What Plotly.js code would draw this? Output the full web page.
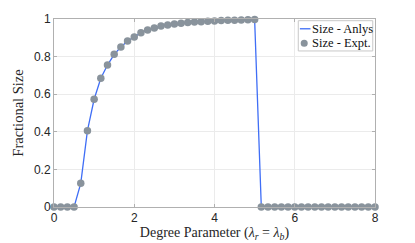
<!DOCTYPE html>
<html>
<head>
<meta charset="utf-8">
<script src="https://cdn.plot.ly/plotly-3.0.1.min.js"></script>
<style>html,body{margin:0;padding:0;background:#fff;}#chart{width:415px;height:243px;}</style>
</head>
<body>
<div id="chart"></div>
<script>
var degreeParam = [0, 0.1667, 0.3333, 0.5, 0.6667, 0.8333, 1, 1.1667, 1.3333, 1.5, 1.6667, 1.8333,
  2, 2.1667, 2.3333, 2.5, 2.6667, 2.8333, 3, 3.1667, 3.3333, 3.5, 3.6667, 3.8333,
  4, 4.1667, 4.3333, 4.5, 4.6667, 4.8333, 5, 5.1667, 5.3333, 5.5, 5.6667, 5.8333,
  6, 6.1667, 6.3333, 6.5, 6.6667, 6.8333, 7, 7.1667, 7.3333, 7.5, 7.6667, 7.8333, 8];
var sizeAnlys = [0, 0, 0, 0, 0.126, 0.406, 0.573, 0.685, 0.755, 0.812, 0.851, 0.883,
  0.904, 0.927, 0.941, 0.952, 0.963, 0.968, 0.973, 0.977, 0.981, 0.984, 0.986, 0.988,
  0.990, 0.992, 0.993, 0.994, 0.995, 0.996, 0.997, 0, 0, 0, 0, 0,
  0, 0, 0, 0, 0, 0, 0, 0, 0, 0, 0, 0, 0];
var sizeExpt = [0, 0, 0, 0, 0.126, 0.406, 0.573, 0.685, 0.755, 0.812, 0.851, 0.883,
  0.904, 0.927, 0.941, 0.952, 0.963, 0.968, 0.973, 0.977, 0.981, 0.984, 0.986, 0.988,
  0.990, 0.992, 0.993, 0.994, 0.995, 0.996, 0.997, 0, 0, 0, 0, 0,
  0, 0, 0, 0, 0, 0, 0, 0, 0, 0, 0, 0, 0];
var seriesNames = ['Size - Anlys', 'Size - Expt.'];
var xTicks = [0, 2, 4, 6, 8];
var yTicks = [0, 0.2, 0.4, 0.6, 0.8, 1];
var yTickText = ['0', '0.2', '0.4', '0.6', '0.8', '1'];

var serif = '"Liberation Serif", "DejaVu Serif", serif';
var sans = '"Liberation Sans", Arial, sans-serif';
var lineColor = '#3f6ef6';
var markerColor = '#89939c';

var traces = [
  {x: degreeParam, y: sizeAnlys, name: seriesNames[0], mode: 'lines',
   line: {color: lineColor, width: 1.3}, cliponaxis: false, showlegend: false},
  {x: degreeParam, y: sizeExpt, name: seriesNames[1], mode: 'markers',
   marker: {color: markerColor, size: 7.5}, cliponaxis: false, showlegend: false}
];

var axisCommon = {
  showline: true, linecolor: '#b0b0b0', linewidth: 1, mirror: 'ticks',
  ticks: 'inside', ticklen: 3, tickcolor: '#b0b0b0',
  showgrid: true, gridcolor: '#ebebeb', gridwidth: 1, zeroline: false,
  tickfont: {family: sans, size: 12, color: '#262626'}
};

// compact legend (paper coordinates)
var legendShapes = [
  {type: 'rect', xref: 'paper', yref: 'paper', x0: 0.761, x1: 0.993, y0: 0.830, y1: 0.991,
   line: {color: '#c8c8c8', width: 1}, fillcolor: '#fff', layer: 'above'},
  {type: 'line', xref: 'paper', yref: 'paper', x0: 0.766, x1: 0.799, y0: 0.948, y1: 0.948,
   line: {color: lineColor, width: 1.3}, layer: 'above'},
  {type: 'circle', xref: 'paper', yref: 'paper', x0: 0.7685, x1: 0.7905, y0: 0.852, y1: 0.890,
   line: {width: 0}, fillcolor: markerColor, layer: 'above'}
];
var legendAnnots = [
  {text: seriesNames[0], xref: 'paper', yref: 'paper', x: 0.798, y: 0.948, xanchor: 'left', yanchor: 'middle',
   showarrow: false, font: {family: serif, size: 12.5, color: '#111'}},
  {text: seriesNames[1], xref: 'paper', yref: 'paper', x: 0.798, y: 0.871, xanchor: 'left', yanchor: 'middle',
   showarrow: false, font: {family: serif, size: 12.5, color: '#111'}}
];

var layout = {
  width: 415, height: 243,
  margin: {l: 54, r: 40, t: 19, b: 36},
  paper_bgcolor: '#fff', plot_bgcolor: '#fff',
  showlegend: false,
  xaxis: Object.assign({}, axisCommon, {
    range: [0, 8], tickvals: xTicks, ticktext: xTicks.map(String),
    title: {text: 'Degree Parameter (<i>λ</i><sub><i>r</i></sub> = <i>λ</i><sub><i>b</i></sub>)',
      font: {family: serif, size: 14, color: '#262626'}, standoff: 2}
  }),
  yaxis: Object.assign({}, axisCommon, {
    range: [0, 1], tickvals: yTicks, ticktext: yTickText,
    title: {text: 'Fractional Size', font: {family: serif, size: 14.5, color: '#262626'}, standoff: 6}
  }),
  shapes: legendShapes,
  annotations: legendAnnots
};

Plotly.newPlot('chart', traces, layout, {displayModeBar: false, staticPlot: true});
</script>
</body>
</html>
